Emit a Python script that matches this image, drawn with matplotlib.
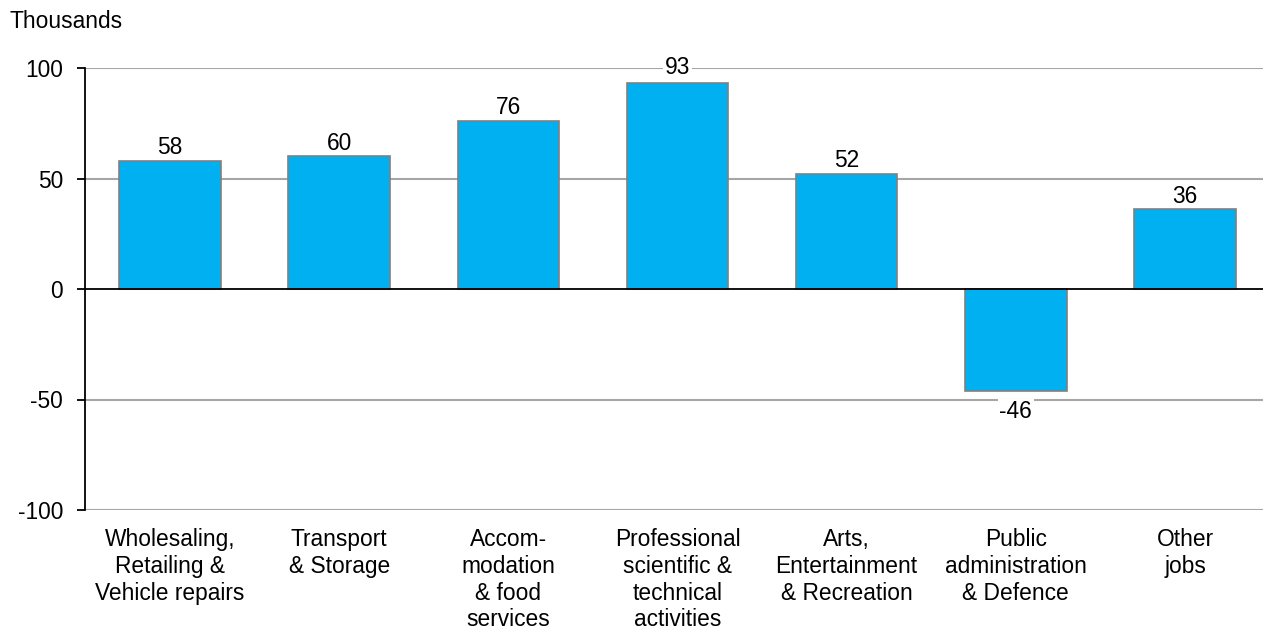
import matplotlib
matplotlib.use("Agg")
import matplotlib.pyplot as plt

plt.rcParams['font.family'] = ['Liberation Sans', 'DejaVu Sans']

categories = ["Wholesaling,\nRetailing &\nVehicle repairs", "Transport\n& Storage",
              "Accom-\nmodation\n& food\nservices", "Professional\nscientific &\ntechnical\nactivities",
              "Arts,\nEntertainment\n& Recreation", "Public\nadministration\n& Defence", "Other\njobs"]
values = [58, 60, 76, 93, 52, -46, 36]
yticks = [-100, -50, 0, 50, 100]

fs = 16.4

fig = plt.figure(figsize=(12.63, 6.29), dpi=100)
ax = fig.add_axes([85.4 / 1263, 1 - 510 / 629, (1269.6 - 85.4) / 1263, (510 - 68) / 629])

x = list(range(len(values)))
ax.bar(x, values, width=0.6, color="#00B0F0", edgecolor="#808080", linewidth=1.2, zorder=3)

ax.set_xlim(-0.5, len(values) - 0.5)
ax.set_ylim(-100, 100)
ax.set_yticks(yticks)
ax.set_yticklabels([str(t) for t in yticks], fontsize=fs)
for t in yticks:
    if t != 0:
        ax.axhline(t, color="#a6a6a6", linewidth=1.5, zorder=1)
ax.axhline(0, color="black", linewidth=1.3, zorder=4)

ax.set_xticks(x)
ax.set_xticklabels(categories, fontsize=fs, linespacing=1.21)
ax.tick_params(axis="x", length=0, pad=13)
ax.tick_params(axis="y", length=6, width=1.3, pad=10)

for s in ["top", "right", "bottom"]:
    ax.spines[s].set_visible(False)
ax.spines["left"].set_linewidth(1.3)
ax.spines["left"].set_zorder(5)

# labels sit between gridlines and bars so the white box only hides gridlines
for xi, v in zip(x, values):
    if v >= 0:
        off = 3.5 if v > 90 else 1.2
        ax.annotate(str(v), (xi, v), xytext=(0, off), textcoords="offset points",
                    ha="center", va="bottom", fontsize=fs, zorder=2,
                    bbox=dict(facecolor="white", edgecolor="none", pad=1))
    else:
        ax.annotate(str(v), (xi, v), xytext=(0, -7), textcoords="offset points",
                    ha="center", va="top", fontsize=fs, zorder=2,
                    bbox=dict(facecolor="white", edgecolor="none", pad=1))

fig.text(10 / 1263, 1 - 22 / 629, "Thousands", fontsize=fs, ha="left", va="center")

fig.savefig("out.png", dpi=100)
